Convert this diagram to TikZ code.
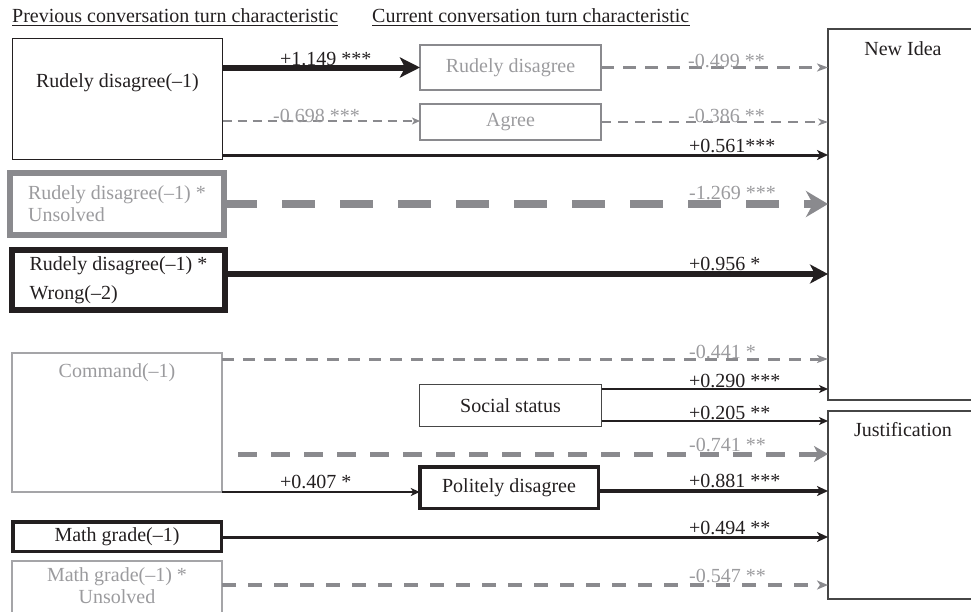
\documentclass[tikz,border=0pt]{standalone}
\usepackage{fontspec}
\setmainfont{Liberation Serif}
\usetikzlibrary{arrows.meta}
\definecolor{blk}{RGB}{35,31,32}
\definecolor{lg}{RGB}{138,138,142}
\definecolor{tg}{RGB}{155,155,158}
\definecolor{bxg}{RGB}{165,165,168}
\definecolor{dg}{RGB}{70,70,70}
\begin{document}
\begin{tikzpicture}[x=1pt,y=-1pt,
  font=\fontsize{20}{22}\selectfont,
  box/.style={draw, rectangle, inner sep=0pt, outer sep=0pt},
  lbl/.style={anchor=base west, inner sep=0pt, text=blk},
  glbl/.style={anchor=base west, inner sep=0pt, text=tg},
  bigtip/.style={-{Stealth[length=#1,width=#1,inset=4pt]}},
]
\useasboundingbox (0,0) rectangle (971,611);

% headers
\node[anchor=base west, inner sep=0pt, text=blk] (h1) at (12,22) {Previous conversation turn characteristic};
\draw[blk, line width=1pt] ([yshift=-3.5pt]h1.base west) -- ([yshift=-3.5pt]h1.base east);
\node[anchor=base west, inner sep=0pt, text=blk] (h2) at (372,22) {Current conversation turn characteristic};
\draw[blk, line width=1pt] ([yshift=-3.5pt]h2.base west) -- ([yshift=-3.5pt]h2.base east);

% boxes
\node[box, draw=blk, line width=1.5pt, minimum width=210pt, minimum height=121pt] (A) at (117.5,99) {};
\node[text=blk] (Atxt) at (117.5,83) {Rudely disagree(–1)};
\node[box, draw=lg, line width=2.5pt, minimum width=181pt, minimum height=45pt, text=tg] (B) at (510.5,67.5) {Rudely disagree};
\node[box, draw=lg, line width=2pt, minimum width=181pt, minimum height=36pt, text=tg] (C) at (510.5,122) {Agree};
\node[box, draw=lg, line width=6pt, minimum width=214pt, minimum height=62pt, text=tg, align=left] (D) at (117,204) {Rudely disagree(–1) *\\Unsolved};
\node[box, draw=blk, line width=6pt, minimum width=213pt, minimum height=60pt, text=blk, align=left] (E) at (118.5,280) {Rudely disagree(–1) *\\[7pt]Wrong(–2)};
\node[box, draw=bxg, line width=2pt, minimum width=210pt, minimum height=139pt] (F) at (117,422.5) {};
\node[text=tg] (Ftxt) at (117,373) {Command(–1)};
\node[box, draw=dg, line width=1.2pt, minimum width=182pt, minimum height=42pt, text=blk] (S) at (510.5,405.5) {Social status};
\node[box, draw=blk, line width=3.5pt, minimum width=178.5pt, minimum height=41.5pt, text=blk] (P) at (509,487.5) {Politely disagree};
\node[box, draw=blk, line width=3.5pt, minimum width=208.5pt, minimum height=29.5pt, text=blk] (MG) at (117,536.5) {Math grade(–1)};
\node[box, draw=bxg, line width=2pt, minimum width=210pt, minimum height=80pt] (MU) at (117,601) {};
\node[text=tg, align=center] (MUtxt) at (117,586) {Math grade(–1) *\\Unsolved};
\node[box, draw=dg, line width=1.2pt, minimum width=150pt, minimum height=371pt] (NI) at (903,214.5) {};
\node[text=blk] (NItxt) at (903,49) {New Idea};
\node[box, draw=dg, line width=1.2pt, minimum width=150pt, minimum height=188pt] (J) at (903,505) {};
\node[text=blk] (Jtxt) at (903,430) {Justification};

\coordinate (f741) at (238,454);

% connectors
\draw[blk, line width=6pt, -{Stealth[length=20pt,width=20pt,inset=5pt]}] (A.east |- B.west) -- (B.west);
\draw[lg, line width=2pt, dash pattern=on 9pt off 6pt, -{Stealth[length=8pt,width=7pt,inset=2pt]}] (A.east |- 0,121) -- (C.west |- 0,121);
\draw[lg, line width=3pt, dash pattern=on 13pt off 9pt, -{Stealth[length=11pt,width=8pt,inset=3pt]}] (B.east) -- (NI.west |- B.east);
\draw[lg, line width=2.2pt, dash pattern=on 10pt off 7pt, -{Stealth[length=10pt,width=7pt,inset=3pt]}] (C.east) -- (NI.west |- C.east);
\draw[blk, line width=3pt, -{Stealth[length=11pt,width=10pt,inset=3pt]}] (A.east |- 0,155) -- (NI.west |- 0,155);
\draw[lg, line width=8pt, dash pattern=on 33pt off 25pt, -{Stealth[length=22pt,width=26pt,inset=7pt]}] (D.east |- 0,204) -- (NI.west |- 0,204);
\draw[blk, line width=6pt, -{Stealth[length=18pt,width=19pt,inset=5pt]}] (E.east |- 0,274) -- (NI.west |- 0,274);
\draw[lg, line width=3pt, dash pattern=on 12pt off 9pt, -{Stealth[length=11pt,width=8pt,inset=3pt]}] (F.east |- 0,359) -- (NI.west |- 0,359);
\draw[blk, line width=1.5pt, -{Stealth[length=9pt,width=8pt,inset=2.5pt]}] (S.east |- 0,389) -- (NI.west |- 0,389);
\draw[blk, line width=1.5pt, -{Stealth[length=9pt,width=8pt,inset=2.5pt]}] (S.east |- 0,421) -- (J.west |- 0,421);
\draw[lg, line width=5pt, dash pattern=on 19pt off 14pt, -{Stealth[length=14pt,width=16pt,inset=4pt]}] (f741) -- (J.west |- f741);
\draw[blk, line width=2pt, -{Stealth[length=9pt,width=8pt,inset=2.5pt]}] (F.east |- 0,492) -- (P.west |- 0,492);
\draw[blk, line width=3.5pt, -{Stealth[length=11pt,width=10pt,inset=3pt]}] (P.east |- 0,491) -- (J.west |- 0,491);
\draw[blk, line width=3pt, -{Stealth[length=11pt,width=10pt,inset=3pt]}] (MG.east |- 0,537) -- (J.west |- 0,537);
\draw[lg, line width=3.5pt, dash pattern=on 14pt off 12pt, -{Stealth[length=11pt,width=9pt,inset=3pt]}] (MU.east |- 0,585) -- (J.west |- 0,585);

% labels
\node[lbl] (l1) at (280,65) {+1.149 ***};
\node[glbl] (l2) at (273,122) {-0.698 ***};
\node[glbl] (l3) at (688,67) {-0.499 **};
\node[glbl] (l4) at (688,122) {-0.386 **};
\node[lbl] (l5) at (689,152) {+0.561***};
\node[glbl] (l6) at (689,199) {-1.269 ***};
\node[lbl] (l7) at (689,270) {+0.956 *};
\node[glbl] (l8) at (689,358) {-0.441 *};
\node[lbl] (l9) at (689,387) {+0.290 ***};
\node[lbl] (l10) at (689,419) {+0.205 **};
\node[glbl] (l11) at (689,451) {-0.741 **};
\node[lbl] (l12) at (280,488) {+0.407 *};
\node[lbl] (l13) at (689,487) {+0.881 ***};
\node[lbl] (l14) at (689,534) {+0.494 **};
\node[glbl] (l15) at (689,582) {-0.547 **};
\end{tikzpicture}
\end{document}
